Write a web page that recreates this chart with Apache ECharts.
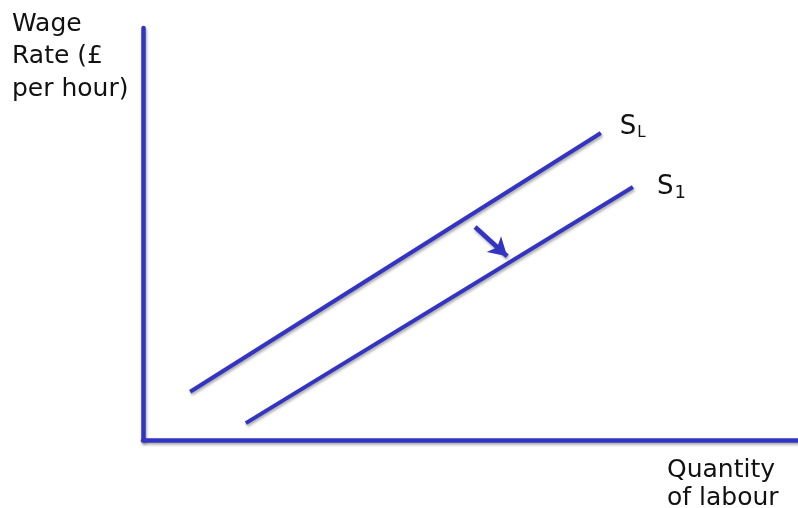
<!DOCTYPE html>
<html><head><meta charset="utf-8">
<script src="https://cdn.jsdelivr.net/npm/echarts@6/dist/echarts.min.js"></script>
<style>html,body{margin:0;padding:0;background:#fff}#c{width:798px;height:508px}</style>
</head><body><div id="c"></div>
<script>
const xRange = [0, 100];
const yRange = [0, 100];
const supplySL = [[7.2, 11.7], [69.9, 74.5]];
const supplyS1 = [[15.7, 4.1], [74.8, 61.4]];
const shiftArrow = [[50.7, 51.7], [55.6, 44.6]];
const labelSL = ['S', 'L'];
const labelS1 = ['S', '1'];
const yTitle = 'Wage\nRate (£\nper hour)';
const xTitle = 'Quantity\nof labour';

const BLUE = '#3434c2';
const FONT = 'DejaVu Sans';
const TXT = '#111';
const shadow = {shadowBlur: 3, shadowColor: 'rgba(0,0,0,0.35)', shadowOffsetX: 1, shadowOffsetY: 2};

function endLabel(parts, offset, subSize) {
  return {
    show: true, offset: offset, distance: 0,
    formatter: '{s|' + parts[0] + '}{sub|' + parts[1] + '}',
    rich: {
      s: {fontFamily: FONT, fontSize: 26, color: TXT, lineHeight: 32},
      sub: {fontFamily: FONT, fontSize: subSize, color: TXT, lineHeight: 32, padding: [13, 0, 0, 1]}
    }
  };
}

const chart = echarts.init(document.getElementById('c'), null, {renderer: 'canvas'});
chart.setOption({
  animation: false,
  grid: {left: 143, right: 0, top: 28, bottom: 68},
  xAxis: {type: 'value', min: xRange[0], max: xRange[1],
    axisLine: {show: true, lineStyle: Object.assign({color: BLUE, width: 4.5}, shadow)},
    axisTick: {show: false}, axisLabel: {show: false}, splitLine: {show: false}},
  yAxis: {type: 'value', min: yRange[0], max: yRange[1],
    axisLine: {show: true, lineStyle: Object.assign({color: BLUE, width: 4.5}, shadow)},
    axisTick: {show: false}, axisLabel: {show: false}, splitLine: {show: false}},
  graphic: [
    {type: 'text', left: 12, top: 8, style: {text: yTitle, fontFamily: FONT, fontSize: 25, lineHeight: 32.5, fill: TXT}},
    {type: 'text', left: 667, top: 456, style: {text: xTitle, fontFamily: FONT, fontSize: 25, lineHeight: 28, fill: TXT}}
  ],
  series: [
    {type: 'line', data: supplySL, symbol: 'none', showSymbol: false,
      lineStyle: Object.assign({color: BLUE, width: 4}, shadow),
      endLabel: endLabel(labelSL, [19, -6], 15),
      markLine: {silent: true, symbol: ['none', 'arrow'], symbolSize: [16, 18], label: {show: false},
        lineStyle: Object.assign({color: BLUE, width: 4.5, type: 'solid'}, shadow),
        data: [[{coord: shiftArrow[0]}, {coord: shiftArrow[1]}]]}},
    {type: 'line', data: supplyS1, symbol: 'none', showSymbol: false,
      lineStyle: Object.assign({color: BLUE, width: 4}, shadow),
      endLabel: endLabel(labelS1, [24, 0], 18)}
  ]
});
</script></body></html>
